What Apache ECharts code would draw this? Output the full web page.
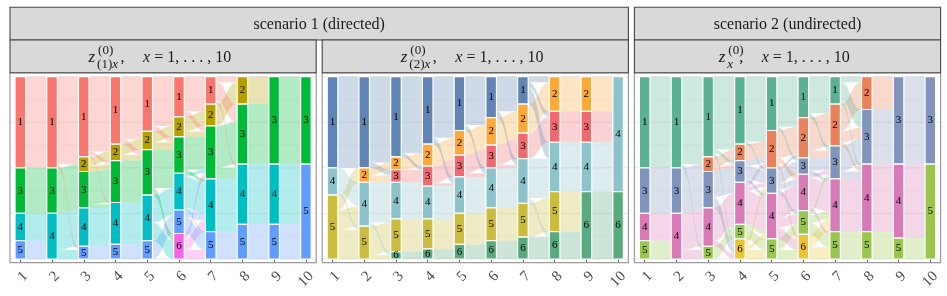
<!DOCTYPE html>
<html><head><meta charset="utf-8">
<script src="https://cdn.jsdelivr.net/npm/echarts/dist/echarts.min.js"></script>
<style>html,body{margin:0;padding:0;background:#fff}#c{width:947px;height:296px}</style>
</head><body><div id="c"></div>
<script>
// ---------------- data ----------------
const X_LABELS = ['1','2','3','4','5','6','7','8','9','10'];
const Y_GRID = [0, 0.125, 0.25, 0.375, 0.5, 0.625, 0.75, 0.875, 1];

const P1_COLORS = ['#F8766D','#B79F00','#00BA38','#00BFC4','#619CFF','#F564E3'];
const P2_COLORS = ['#6084B3','#FAA93A','#EE6A6F','#8DC3CA','#C9BC3F','#5AAA80'];
const P3_COLORS = ['#5AB292','#E9825A','#8194BE','#D87AB6','#98C64E','#EBC434'];

// strata per column, top to bottom: [cluster, share]
const P1_NODES = [
  [[1,50],[3,25],[4,15],[5,10]],
  [[1,50],[3,25],[4,25]],
  [[1,44],[2,8],[3,20],[4,21],[5,7]],
  [[1,37],[2,9],[3,23],[4,23],[5,8]],
  [[1,30],[2,10],[3,25],[4,25],[5,10]],
  [[1,22],[2,11],[3,20],[4,20],[5,13],[6,14]],
  [[1,15],[2,12],[3,29],[4,29],[5,15]],
  [[2,15],[3,33],[4,33],[5,19]],
  [[3,48],[4,33],[5,19]],
  [[3,48],[5,52]]
];
const P2_NODES = [
  [[1,50],[4,15],[5,35]],
  [[1,50],[2,8],[4,24],[5,18]],
  [[1,44],[2,7],[3,7],[4,20],[5,18],[6,4]],
  [[1,37],[2,12],[3,11],[4,18],[5,16.5],[6,5.5]],
  [[1,29.5],[2,13.5],[3,12],[4,20],[5,17],[6,8]],
  [[1,22.5],[2,15],[3,12.5],[4,22],[5,18],[6,10]],
  [[1,15],[2,16],[3,14],[4,24.5],[5,18.5],[6,12]],
  [[2,19],[3,17],[4,27],[5,22],[6,15]],
  [[2,19],[3,17],[4,27],[6,37]],
  [[4,63],[6,37]]
];
const P3_NODES = [
  [[1,50],[3,25],[4,15],[5,10]],
  [[1,50],[3,25],[4,25]],
  [[1,44],[2,8],[3,20],[4,21],[5,7]],
  [[1,37],[2,9],[3,12],[4,23],[5,8],[6,11]],
  [[1,29.5],[2,20.5],[3,14],[4,25],[5,11]],
  [[1,22.5],[2,22],[3,9],[4,20],[5,13],[6,13.5]],
  [[1,15],[2,23],[3,18],[4,29],[5,15]],
  [[2,18],[3,30],[4,37],[5,15]],
  [[3,48],[4,40.5],[5,11.5]],
  [[3,48],[5,52]]
];

// flows between column t and t+1: [from, to, share]
const P1_FLOWS = [
  [[1,1,50],[3,3,25],[4,4,15],[5,4,10]],
  [[1,1,44],[1,2,4],[1,5,2],[3,2,4],[3,3,20],[3,4,1],[4,4,20],[4,5,5]],
  [[1,1,37],[1,2,4],[1,3,2],[1,4,1],[2,2,5],[2,3,3],[3,3,18],[3,4,2],[4,4,20],[4,5,1],[5,5,7]],
  [[1,1,30],[1,2,4],[1,3,3],[2,2,6],[2,3,3],[3,3,19],[3,4,4],[4,4,21],[4,5,2],[5,5,8]],
  [[1,1,22],[1,2,5],[1,3,3],[2,2,6],[2,3,4],[3,3,13],[3,4,8],[3,6,4],[4,4,12],[4,5,3],[4,6,10],[5,5,10]],
  [[1,1,15],[1,2,4],[1,3,3],[2,2,8],[2,3,3],[3,3,18],[3,4,2],[4,3,2],[4,4,17],[4,5,1],[5,4,4],[5,5,9],[6,3,3],[6,4,6],[6,5,5]],
  [[1,2,3],[1,3,10],[1,4,2],[2,2,12],[3,3,23],[3,4,6],[4,4,25],[4,5,4],[5,5,15]],
  [[2,3,15],[3,3,33],[4,4,33],[5,5,19]],
  [[3,3,48],[4,5,33],[5,5,19]]
];
const P2_FLOWS = [
  [[1,1,50],[4,4,13],[4,5,2],[5,2,8],[5,4,11],[5,5,16]],
  [[1,1,44],[1,2,3],[1,3,3],[2,2,4],[2,3,4],[4,4,20],[4,5,2],[4,6,2],[5,5,16],[5,6,2]],
  [[1,1,37],[1,2,5],[1,3,2],[2,2,7],[3,3,7],[4,3,2],[4,4,18],[5,5,16.5],[5,6,1.5],[6,6,4]],
  [[1,1,29.5],[1,2,4],[1,4,3.5],[2,2,9.5],[2,3,2.5],[3,3,9.5],[3,4,1.5],[4,4,15],[4,5,3],[5,5,14],[5,6,2.5],[6,6,5.5]],
  [[1,1,22.5],[1,2,4],[1,4,3],[2,2,11],[2,3,2.5],[3,3,10],[3,4,2],[4,4,17],[4,5,3],[5,5,15],[5,6,2],[6,6,8]],
  [[1,1,15],[1,2,4],[1,4,3.5],[2,2,12],[2,3,3],[3,3,11],[3,4,1.5],[4,4,19.5],[4,5,2.5],[5,5,16],[5,6,2],[6,6,10]],
  [[1,2,3],[1,3,3],[1,4,9],[2,2,16],[3,3,14],[4,4,18],[4,5,3.5],[4,6,3],[5,5,18.5],[6,6,12]],
  [[2,2,19],[3,3,17],[4,4,27],[5,6,22],[6,6,15]],
  [[2,4,19],[3,4,17],[4,4,27],[6,6,37]]
];
const P3_FLOWS = [
  [[1,1,50],[3,3,25],[4,4,15],[5,4,10]],
  [[1,1,44],[1,2,4],[1,5,2],[3,2,4],[3,3,20],[3,4,1],[4,4,20],[4,5,5]],
  [[1,1,37],[1,2,3],[1,3,2],[1,6,2],[2,2,6],[2,3,2],[3,3,8],[3,4,6],[3,6,6],[4,4,17],[4,5,1],[4,6,3],[5,5,7]],
  [[1,1,29.5],[1,2,6],[1,3,1.5],[2,2,9],[3,2,3],[3,3,7],[3,4,2],[4,2,2.5],[4,3,2],[4,4,18.5],[5,4,2],[5,5,6],[6,3,3.5],[6,4,2.5],[6,5,5]],
  [[1,1,22.5],[1,2,5],[1,3,2],[2,2,15],[2,4,3],[2,6,2.5],[3,2,2],[3,3,7],[3,4,3],[3,5,2],[4,4,14],[4,5,5],[4,6,6],[5,5,6],[5,6,5]],
  [[1,1,15],[1,2,5],[1,3,2.5],[2,2,18],[2,3,4],[3,3,7],[3,4,2],[4,3,2],[4,4,16],[4,5,2],[5,3,2.5],[5,4,4],[5,5,6.5],[6,4,7],[6,5,6.5]],
  [[1,2,3],[1,3,10],[1,4,2],[2,2,15],[2,3,6],[2,4,2],[3,3,14],[3,4,4],[4,4,29],[5,5,15]],
  [[2,3,18],[3,3,30],[4,4,37],[5,4,3.5],[5,5,11.5]],
  [[3,3,48],[4,5,40.5],[5,5,11.5]]
];

const HEADERS = ['scenario 1 (directed)', 'scenario 2 (undirected)'];

// ---------------- layout ----------------
const SERIF = '"Liberation Serif", "DejaVu Serif", serif';
const BW = 1/3;          // stratum width in x units
const PAD = 0.325;       // panel expansion in x units
const PANEL_LEFT = [10, 322.2, 634.4];
const PANEL_W = 306.2;
const GRID_TOP = 73, GRID_H = 189.7;

function rgba(hex, a){
  const n = parseInt(hex.slice(1),16);
  return 'rgba(' + (n>>16&255) + ',' + (n>>8&255) + ',' + (n&255) + ',' + a + ')';
}

function layout(nodes, flows){
  const bars = [], tops = [];
  nodes.forEach((col, c) => {
    const total = col.reduce((s,d)=>s+d[1],0);
    let cum = 0; const m = {};
    col.forEach(([k,s]) => {
      const t = 1 - cum/total, b = 1 - (cum+s)/total;
      m[k] = {top:t, total:total};
      bars.push([c+1, t, b, k]);
      cum += s;
    });
    tops.push(m);
  });
  const fl = [];
  flows.forEach((list, t) => {
    const src = tops[t], dst = tops[t+1];
    const srcOff = {}, dstOff = {};
    const bySrc = list.slice().sort((a,b)=> a[0]-b[0] || a[1]-b[1]);
    const byDst = list.slice().sort((a,b)=> a[1]-b[1] || a[0]-b[0]);
    const pos = new Map();
    bySrc.forEach(f => {
      const o = srcOff[f[0]] || 0;
      const T = src[f[0]].total;
      const yt = src[f[0]].top - o/T, yb = src[f[0]].top - (o+f[2])/T;
      srcOff[f[0]] = o + f[2];
      pos.set(f, [yt, yb]);
    });
    byDst.forEach(f => {
      const o = dstOff[f[1]] || 0;
      const T = dst[f[1]].total;
      const yt = dst[f[1]].top - o/T, yb = dst[f[1]].top - (o+f[2])/T;
      dstOff[f[1]] = o + f[2];
      const a = pos.get(f);
      fl.push([t+1, a[0], a[1], yt, yb, f[0]]);
    });
  });
  return {bars, flows: fl};
}

function renderBg(params, api){
  const cs = params.coordSys;
  const L = api.coord([1 - PAD, 0])[0], R = api.coord([10 + PAD, 0])[0];
  const ch = [];
  Y_GRID.forEach((v, i) => {
    const y = api.coord([1, v])[1];
    ch.push({type:'line', shape:{x1:L, y1:y, x2:R, y2:y},
      style:{stroke: i%2 ? '#f0f0f0' : '#e6e6e6', lineWidth: i%2 ? 0.6 : 0.9}});
  });
  ch.push({type:'rect', shape:{x:L, y:cs.y, width:R-L, height:cs.height},
    style:{fill:null, stroke:'#9c9c9c', lineWidth:1.2}});
  return {type:'group', children: ch};
}

function makeFlowRender(colors){
  return function(params, api){
    const x = api.value(0);
    const x0 = x + BW/2, x1 = x + 1 - BW/2;
    const p0 = api.coord([x0, api.value(1)]), p3 = api.coord([x0, api.value(2)]);
    const p1 = api.coord([x1, api.value(3)]), p2 = api.coord([x1, api.value(4)]);
    const mx = (p0[0] + p1[0]) / 2;
    const d = 'M' + p0[0] + ',' + p0[1] +
      ' C' + mx + ',' + p0[1] + ' ' + mx + ',' + p1[1] + ' ' + p1[0] + ',' + p1[1] +
      ' L' + p2[0] + ',' + p2[1] +
      ' C' + mx + ',' + p2[1] + ' ' + mx + ',' + p3[1] + ' ' + p3[0] + ',' + p3[1] + ' Z';
    return {type:'path', shape:{pathData:d}, style:{fill: rgba(colors[api.value(5)-1], 0.3)}};
  };
}

function makeBarRender(colors){
  return function(params, api){
    const x = api.value(0), k = api.value(3);
    const p0 = api.coord([x - BW/2, api.value(1)]), p1 = api.coord([x + BW/2, api.value(2)]);
    return {type:'group', children:[
      {type:'rect', shape:{x:p0[0], y:p0[1], width:p1[0]-p0[0], height:p1[1]-p0[1]},
        style:{fill: colors[k-1], stroke:'#ffffff', lineWidth:1.2}},
      {type:'text', style:{text:String(k), x:(p0[0]+p1[0])/2, y:(p0[1]+p1[1])/2,
        align:'center', verticalAlign:'middle', fontSize:11, fontFamily:SERIF, fill:'#000'}}
    ]};
  };
}

const PANELS = [
  {nodes:P1_NODES, flows:P1_FLOWS, colors:P1_COLORS, sub:[{t:'(1)'},{t:'x', i:true}]},
  {nodes:P2_NODES, flows:P2_FLOWS, colors:P2_COLORS, sub:[{t:'(2)'},{t:'x', i:true}]},
  {nodes:P3_NODES, flows:P3_FLOWS, colors:P3_COLORS, sub:[{t:'x', i:true}]}
];

const grids = [], xAxes = [], yAxes = [], series = [];
PANELS.forEach((p, i) => {
  const L = layout(p.nodes, p.flows);
  grids.push({left: PANEL_LEFT[i] + 10.3, top: GRID_TOP, width: PANEL_W - 20.6, height: GRID_H,
    containLabel:false, outerBoundsMode:'none'});
  xAxes.push({type:'value', gridIndex:i, min:1, max:10, interval:1,
    axisLine:{show:false},
    axisTick:{show:true, length:4, lineStyle:{color:'#6e6e6e', width:1}},
    axisLabel:{rotate:45, margin:6, align:'right', verticalAlign:'top',
      fontFamily:SERIF, fontSize:15, color:'#4d4d4d',
      formatter: v => X_LABELS[Math.round(v)-1]},
    splitLine:{show:true, lineStyle:{color:'#ececec', width:0.8}}});
  yAxes.push({type:'value', gridIndex:i, min:-0.0203, max:1.0203, show:false});
  series.push({type:'custom', xAxisIndex:i, yAxisIndex:i, z:1, silent:true,
    data:[[1,0]], renderItem: renderBg});
  series.push({type:'custom', xAxisIndex:i, yAxisIndex:i, z:2, silent:true, clip:false,
    data: L.flows, renderItem: makeFlowRender(p.colors)});
  series.push({type:'custom', xAxisIndex:i, yAxisIndex:i, z:3, silent:true, clip:false,
    data: L.bars, renderItem: makeBarRender(p.colors)});
});

// strips
const graphic = [];
const STRIP = {fill:'#d9d9d9', stroke:'#454545', lineWidth:1.1};
const hdr = [[PANEL_LEFT[0], PANEL_LEFT[1] + PANEL_W - PANEL_LEFT[0]], [PANEL_LEFT[2], PANEL_W]];
hdr.forEach((h, i) => {
  graphic.push({type:'rect', shape:{x:h[0], y:7.3, width:h[1], height:32.7}, style:STRIP, z:10});
  graphic.push({type:'text', x:h[0] + h[1]/2, y:25, z:11,
    style:{text:HEADERS[i], align:'center', verticalAlign:'middle', fontSize:16, fontFamily:SERIF, fill:'#1a1a1a'}});
});
PANELS.forEach((p, i) => {
  const lx = PANEL_LEFT[i];
  graphic.push({type:'rect', shape:{x:lx, y:40, width:PANEL_W, height:32.7}, style:STRIP, z:10});
  const cx = lx + PANEL_W/2;
  const narrow = p.sub.length === 1;
  const s1 = narrow ? 5.85 : 0, s2 = narrow ? -5.85 : 0;
  const txt = (x, y, rich, text, size) => graphic.push({type:'text', x:x, y:y, z:11,
    style:{text:text, rich:rich, align:'left', verticalAlign:'middle', fontSize:size, fontFamily:SERIF, fill:'#1a1a1a'}});
  const richI = (size) => ({i:{fontStyle:'italic', fontSize:size, fontFamily:SERIF, fill:'#1a1a1a'},
                            n:{fontSize:size, fontFamily:SERIF, fill:'#1a1a1a'}});
  txt(cx - 74.5 + s1, 58, richI(17), '{i|z}', 17);
  txt(cx - 65 + s1, 50.5, richI(13), '{n|(0)}', 13);
  txt(cx - 66 + s1, 64.5, richI(13),
      p.sub.map(s => s.i ? '{i|' + s.t + '}' : '{n|' + s.t + '}').join(''), 13);
  txt(cx - 42.5 + s2, 58, richI(16), '{n|,}', 16);
  txt(cx - 20 + s2, 58, richI(16), '{i|x}{n| = 1, . . . , 10}', 16);
});

const chart = echarts.init(document.getElementById('c'), null, {renderer:'canvas'});
chart.setOption({
  animation:false,
  backgroundColor:'#ffffff',
  grid: grids, xAxis: xAxes, yAxis: yAxes, series: series, graphic: graphic
});
</script></body></html>
